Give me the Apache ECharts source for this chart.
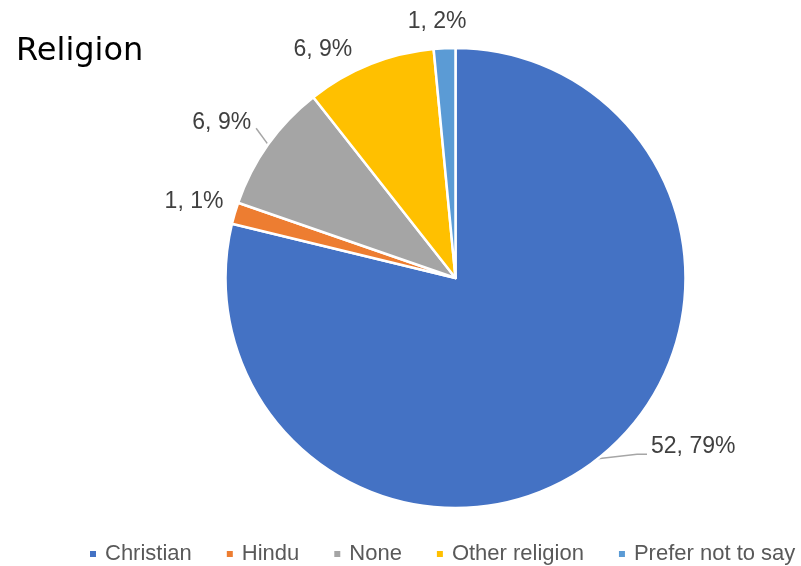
<!DOCTYPE html>
<html><head><meta charset="utf-8">
<script src="https://cdn.jsdelivr.net/npm/echarts@6/dist/echarts.min.js"></script>
<style>html,body{margin:0;padding:0;background:#fff}#c{width:801px;height:566px}</style>
</head><body><div id="c"></div>
<script>
// ---- data ----
const categories = ['Christian', 'Hindu', 'None', 'Other religion', 'Prefer not to say'];
const counts = [52, 1, 6, 6, 1];
const percentLabels = ['79%', '1%', '9%', '9%', '2%'];

// ---- style / layout ----
const colors = ['#4472C4', '#ED7D31', '#A5A5A5', '#FFC000', '#5B9BD5'];
const CX = 455.5, CY = 278, R = 230;
const LABEL_R = 260;
const LABEL_SHIFT = [[77, -36], [-12, -3], [-22, -5], [-36, 13], [-6, 3]];
const LEADER = [true, false, true, false, false];

const total = counts.reduce((a, b) => a + b, 0);
const midAngles = [];
let acc = 0;
counts.forEach(v => { midAngles.push((acc + v / 2) / total * 2 * Math.PI); acc += v; });
function unit(i) { return [Math.sin(midAngles[i]), -Math.cos(midAngles[i])]; }

const chart = echarts.init(document.getElementById('c'), null, {renderer: 'canvas'});
chart.setOption({
  animation: false,
  backgroundColor: '#fff',
  color: colors,
  title: {
    text: 'Religion', left: 11, top: 31,
    textStyle: {fontFamily: 'DejaVu Sans', fontSize: 32, fontWeight: 'normal', color: '#000'}
  },
  legend: {
    data: categories, left: 88, top: 543, width: 730, padding: 0, icon: 'rect',
    itemWidth: 8, itemHeight: 8, itemGap: 33,
    textStyle: {fontFamily: 'Liberation Sans', fontSize: 22, color: '#595959', padding: [0, 0, 0, 3]}
  },
  series: [{
    type: 'pie',
    center: [CX, CY],
    radius: R,
    startAngle: 90,
    clockwise: true,
    avoidLabelOverlap: false,
    silent: true,
    itemStyle: {borderColor: '#fff', borderWidth: 2.5},
    label: {
      show: true, position: 'outside',
      fontFamily: 'Liberation Sans', fontSize: 23, color: '#404040',
      formatter: p => counts[p.dataIndex] + ', ' + percentLabels[p.dataIndex]
    },
    labelLine: {show: true, length: 10, length2: 10, lineStyle: {color: '#A6A6A6', width: 1.5}},
    labelLayout: function (p) {
      const i = p.dataIndex;
      const u = unit(i);
      const x = CX + LABEL_R * u[0] + LABEL_SHIFT[i][0];
      const y = CY + LABEL_R * u[1] + LABEL_SHIFT[i][1];
      const w = p.labelRect.width;
      const res = {x: x, y: y, align: 'center', verticalAlign: 'middle'};
      if (LEADER[i]) {
        const p0 = [CX + R * u[0], CY + R * u[1]];
        if (u[0] > 0) {
          const end = [x - w / 2 - 4, y + 8];
          res.labelLinePoints = [p0, [end[0] - 10, end[1]], end];
        } else {
          const end = [x + w / 2 + 5, y + 6];
          res.labelLinePoints = [p0, end, end];
        }
      }
      return res;
    },
    data: categories.map((name, i) => ({
      name: name, value: counts[i],
      labelLine: {show: LEADER[i]}
    }))
  }]
});
</script>
</body></html>
